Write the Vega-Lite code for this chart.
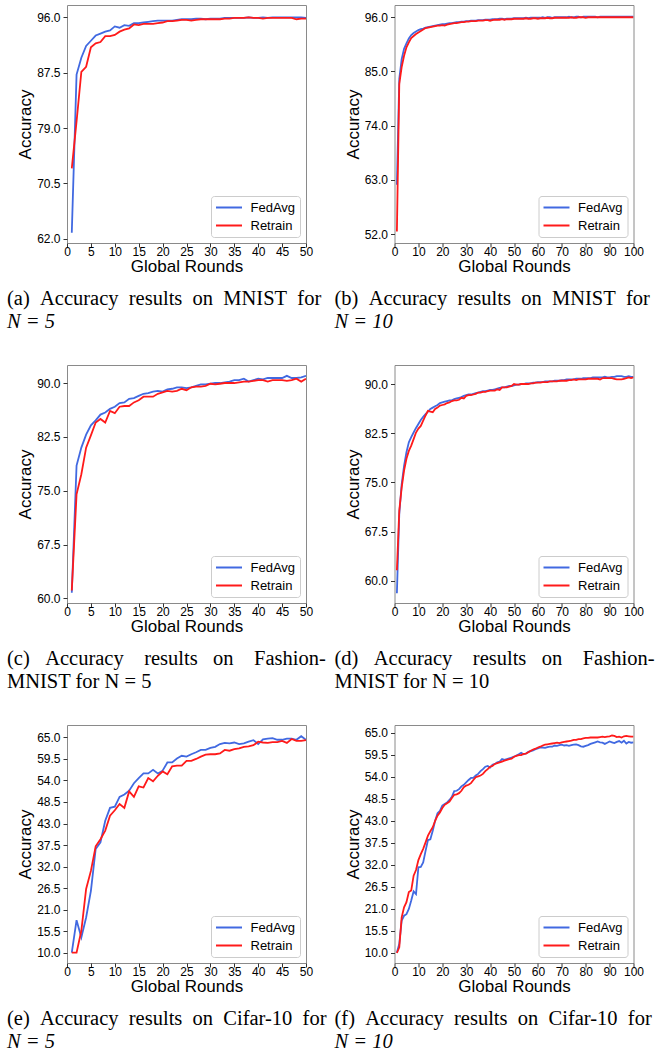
{
"$schema": "https://vega.github.io/schema/vega-lite/v6.json",
"padding": {"left": 6, "top": 4, "right": 2, "bottom": 2},
"autosize": {"type": "pad"},
"columns": 2,
"bounds": "flush",
"spacing": {"row": 122, "column": 88.5},
"resolve": {"scale": {"x": "independent", "y": "independent", "color": "independent"}, "legend": {"color": "independent"}},
"config": {
  "font": "Liberation Sans",
  "view": {"stroke": "#8a8a8a", "strokeWidth": 1},
  "axis": {"domain": false, "grid": false, "ticks": true, "tickColor": "#333", "tickSize": 4, "tickWidth": 1, "labelFont": "Liberation Sans", "labelFontSize": 12, "labelColor": "#000", "labelPadding": -1, "titleFont": "Liberation Sans", "titleFontSize": 17, "titleFontWeight": "normal", "titleColor": "#000", "titlePadding": 1, "labelFlush": false, "labelOverlap": false},
  "axisY": {"labelPadding": 3, "titlePadding": 2},
  "legend": {"orient": "bottom-right", "offset": 6, "labelFont": "Liberation Sans", "labelFontSize": 13, "labelColor": "#000", "symbolType": "M-2,0H2", "symbolSize": 169, "symbolStrokeWidth": 2, "symbolOffset": 6.5, "labelOffset": 14, "fillColor": "#fff", "strokeColor": "#cccccc", "cornerRadius": 3, "padding": 4, "rowPadding": 3},
  "title": {"font": "Liberation Serif", "fontSize": 20.5, "fontWeight": "normal", "color": "#000", "anchor": "start", "frame": "group", "orient": "bottom", "offset": 15, "dx": -60, "subtitleFont": "Liberation Serif", "subtitleFontSize": 20.5, "subtitleColor": "#000", "subtitlePadding": 2}
},
"datasets": {
"a": [
{"r":1,"s":"FedAvg","v":62.9},{"r":2,"s":"FedAvg","v":87.2},{"r":3,"s":"FedAvg","v":89.8},{"r":4,"s":"FedAvg","v":91.6},{"r":5,"s":"FedAvg","v":92.4},{"r":6,"s":"FedAvg","v":93.2},{"r":7,"s":"FedAvg","v":93.5},{"r":8,"s":"FedAvg","v":93.8},{"r":9,"s":"FedAvg","v":94.0},{"r":10,"s":"FedAvg","v":94.6},
{"r":11,"s":"FedAvg","v":94.4},{"r":12,"s":"FedAvg","v":94.8},{"r":13,"s":"FedAvg","v":94.7},{"r":14,"s":"FedAvg","v":95.1},{"r":15,"s":"FedAvg","v":95.1},{"r":16,"s":"FedAvg","v":95.2},{"r":17,"s":"FedAvg","v":95.3},{"r":18,"s":"FedAvg","v":95.4},{"r":19,"s":"FedAvg","v":95.5},{"r":20,"s":"FedAvg","v":95.5},
{"r":21,"s":"FedAvg","v":95.5},{"r":22,"s":"FedAvg","v":95.5},{"r":23,"s":"FedAvg","v":95.6},{"r":24,"s":"FedAvg","v":95.7},{"r":25,"s":"FedAvg","v":95.7},{"r":26,"s":"FedAvg","v":95.7},{"r":27,"s":"FedAvg","v":95.8},{"r":28,"s":"FedAvg","v":95.8},{"r":29,"s":"FedAvg","v":95.7},{"r":30,"s":"FedAvg","v":95.8},
{"r":31,"s":"FedAvg","v":95.8},{"r":32,"s":"FedAvg","v":95.8},{"r":33,"s":"FedAvg","v":95.9},{"r":34,"s":"FedAvg","v":95.9},{"r":35,"s":"FedAvg","v":95.9},{"r":36,"s":"FedAvg","v":95.9},{"r":37,"s":"FedAvg","v":95.9},{"r":38,"s":"FedAvg","v":96.0},{"r":39,"s":"FedAvg","v":95.9},{"r":40,"s":"FedAvg","v":95.9},
{"r":41,"s":"FedAvg","v":96.0},{"r":42,"s":"FedAvg","v":95.9},{"r":43,"s":"FedAvg","v":96.0},{"r":44,"s":"FedAvg","v":96.0},{"r":45,"s":"FedAvg","v":96.0},{"r":46,"s":"FedAvg","v":96.0},{"r":47,"s":"FedAvg","v":96.0},{"r":48,"s":"FedAvg","v":96.0},{"r":49,"s":"FedAvg","v":96.0},{"r":50,"s":"FedAvg","v":95.9},
{"r":1,"s":"Retrain","v":72.8},{"r":2,"s":"Retrain","v":80.0},{"r":3,"s":"Retrain","v":87.6},{"r":4,"s":"Retrain","v":88.4},{"r":5,"s":"Retrain","v":91.4},{"r":6,"s":"Retrain","v":92.0},{"r":7,"s":"Retrain","v":92.2},{"r":8,"s":"Retrain","v":93.1},{"r":9,"s":"Retrain","v":93.1},{"r":10,"s":"Retrain","v":93.3},
{"r":11,"s":"Retrain","v":93.8},{"r":12,"s":"Retrain","v":94.1},{"r":13,"s":"Retrain","v":94.3},{"r":14,"s":"Retrain","v":94.9},{"r":15,"s":"Retrain","v":94.8},{"r":16,"s":"Retrain","v":95.0},{"r":17,"s":"Retrain","v":95.0},{"r":18,"s":"Retrain","v":95.0},{"r":19,"s":"Retrain","v":95.1},{"r":20,"s":"Retrain","v":95.2},
{"r":21,"s":"Retrain","v":95.4},{"r":22,"s":"Retrain","v":95.4},{"r":23,"s":"Retrain","v":95.5},{"r":24,"s":"Retrain","v":95.6},{"r":25,"s":"Retrain","v":95.6},{"r":26,"s":"Retrain","v":95.5},{"r":27,"s":"Retrain","v":95.6},{"r":28,"s":"Retrain","v":95.7},{"r":29,"s":"Retrain","v":95.7},{"r":30,"s":"Retrain","v":95.7},
{"r":31,"s":"Retrain","v":95.7},{"r":32,"s":"Retrain","v":95.7},{"r":33,"s":"Retrain","v":95.8},{"r":34,"s":"Retrain","v":95.8},{"r":35,"s":"Retrain","v":95.9},{"r":36,"s":"Retrain","v":95.9},{"r":37,"s":"Retrain","v":95.9},{"r":38,"s":"Retrain","v":96.0},{"r":39,"s":"Retrain","v":95.9},{"r":40,"s":"Retrain","v":95.9},
{"r":41,"s":"Retrain","v":95.8},{"r":42,"s":"Retrain","v":95.9},{"r":43,"s":"Retrain","v":95.9},{"r":44,"s":"Retrain","v":95.9},{"r":45,"s":"Retrain","v":95.9},{"r":46,"s":"Retrain","v":95.9},{"r":47,"s":"Retrain","v":95.9},{"r":48,"s":"Retrain","v":95.7},{"r":49,"s":"Retrain","v":95.8},{"r":50,"s":"Retrain","v":95.8}
],
"b": [
{"r":1,"s":"FedAvg","v":62.0},{"r":2,"s":"FedAvg","v":83.5},{"r":3,"s":"FedAvg","v":87.5},{"r":4,"s":"FedAvg","v":89.6},{"r":5,"s":"FedAvg","v":90.7},{"r":6,"s":"FedAvg","v":91.7},{"r":7,"s":"FedAvg","v":92.4},{"r":8,"s":"FedAvg","v":92.8},{"r":9,"s":"FedAvg","v":93.1},{"r":10,"s":"FedAvg","v":93.4},
{"r":11,"s":"FedAvg","v":93.6},{"r":12,"s":"FedAvg","v":93.7},{"r":13,"s":"FedAvg","v":93.9},{"r":14,"s":"FedAvg","v":94.0},{"r":15,"s":"FedAvg","v":94.1},{"r":16,"s":"FedAvg","v":94.2},{"r":17,"s":"FedAvg","v":94.3},{"r":18,"s":"FedAvg","v":94.4},{"r":19,"s":"FedAvg","v":94.5},{"r":20,"s":"FedAvg","v":94.6},
{"r":21,"s":"FedAvg","v":94.6},{"r":22,"s":"FedAvg","v":94.7},{"r":23,"s":"FedAvg","v":94.8},{"r":24,"s":"FedAvg","v":94.8},{"r":25,"s":"FedAvg","v":94.9},{"r":26,"s":"FedAvg","v":95.0},{"r":27,"s":"FedAvg","v":95.0},{"r":28,"s":"FedAvg","v":95.1},{"r":29,"s":"FedAvg","v":95.1},{"r":30,"s":"FedAvg","v":95.2},
{"r":31,"s":"FedAvg","v":95.2},{"r":32,"s":"FedAvg","v":95.3},{"r":33,"s":"FedAvg","v":95.3},{"r":34,"s":"FedAvg","v":95.3},{"r":35,"s":"FedAvg","v":95.4},{"r":36,"s":"FedAvg","v":95.4},{"r":37,"s":"FedAvg","v":95.4},{"r":38,"s":"FedAvg","v":95.5},{"r":39,"s":"FedAvg","v":95.5},{"r":40,"s":"FedAvg","v":95.5},
{"r":41,"s":"FedAvg","v":95.6},{"r":42,"s":"FedAvg","v":95.6},{"r":43,"s":"FedAvg","v":95.6},{"r":44,"s":"FedAvg","v":95.7},{"r":45,"s":"FedAvg","v":95.7},{"r":46,"s":"FedAvg","v":95.6},{"r":47,"s":"FedAvg","v":95.7},{"r":48,"s":"FedAvg","v":95.7},{"r":49,"s":"FedAvg","v":95.7},{"r":50,"s":"FedAvg","v":95.8},
{"r":51,"s":"FedAvg","v":95.8},{"r":52,"s":"FedAvg","v":95.8},{"r":53,"s":"FedAvg","v":95.8},{"r":54,"s":"FedAvg","v":95.8},{"r":55,"s":"FedAvg","v":95.9},{"r":56,"s":"FedAvg","v":95.8},{"r":57,"s":"FedAvg","v":95.9},{"r":58,"s":"FedAvg","v":95.9},{"r":59,"s":"FedAvg","v":95.9},{"r":60,"s":"FedAvg","v":95.9},
{"r":61,"s":"FedAvg","v":95.9},{"r":62,"s":"FedAvg","v":96.0},{"r":63,"s":"FedAvg","v":95.9},{"r":64,"s":"FedAvg","v":96.0},{"r":65,"s":"FedAvg","v":96.0},{"r":66,"s":"FedAvg","v":95.9},{"r":67,"s":"FedAvg","v":96.0},{"r":68,"s":"FedAvg","v":96.0},{"r":69,"s":"FedAvg","v":96.0},{"r":70,"s":"FedAvg","v":96.0},
{"r":71,"s":"FedAvg","v":96.0},{"r":72,"s":"FedAvg","v":96.0},{"r":73,"s":"FedAvg","v":96.1},{"r":74,"s":"FedAvg","v":96.0},{"r":75,"s":"FedAvg","v":96.0},{"r":76,"s":"FedAvg","v":96.1},{"r":77,"s":"FedAvg","v":96.1},{"r":78,"s":"FedAvg","v":96.0},{"r":79,"s":"FedAvg","v":96.1},{"r":80,"s":"FedAvg","v":96.1},
{"r":81,"s":"FedAvg","v":96.1},{"r":82,"s":"FedAvg","v":96.1},{"r":83,"s":"FedAvg","v":96.1},{"r":84,"s":"FedAvg","v":96.1},{"r":85,"s":"FedAvg","v":96.0},{"r":86,"s":"FedAvg","v":96.1},{"r":87,"s":"FedAvg","v":96.1},{"r":88,"s":"FedAvg","v":96.1},{"r":89,"s":"FedAvg","v":96.1},{"r":90,"s":"FedAvg","v":96.1},
{"r":91,"s":"FedAvg","v":96.1},{"r":92,"s":"FedAvg","v":96.1},{"r":93,"s":"FedAvg","v":96.1},{"r":94,"s":"FedAvg","v":96.1},{"r":95,"s":"FedAvg","v":96.1},{"r":96,"s":"FedAvg","v":96.1},{"r":97,"s":"FedAvg","v":96.1},{"r":98,"s":"FedAvg","v":96.1},{"r":99,"s":"FedAvg","v":96.1},{"r":100,"s":"FedAvg","v":96.1},
{"r":1,"s":"Retrain","v":52.5},{"r":2,"s":"Retrain","v":82.5},{"r":3,"s":"Retrain","v":85.9},{"r":4,"s":"Retrain","v":88.2},{"r":5,"s":"Retrain","v":89.9},{"r":6,"s":"Retrain","v":90.9},{"r":7,"s":"Retrain","v":91.8},{"r":8,"s":"Retrain","v":92.2},{"r":9,"s":"Retrain","v":92.6},{"r":10,"s":"Retrain","v":92.9},
{"r":11,"s":"Retrain","v":93.2},{"r":12,"s":"Retrain","v":93.5},{"r":13,"s":"Retrain","v":93.8},{"r":14,"s":"Retrain","v":93.9},{"r":15,"s":"Retrain","v":94.0},{"r":16,"s":"Retrain","v":94.1},{"r":17,"s":"Retrain","v":94.2},{"r":18,"s":"Retrain","v":94.3},{"r":19,"s":"Retrain","v":94.3},{"r":20,"s":"Retrain","v":94.4},
{"r":21,"s":"Retrain","v":94.3},{"r":22,"s":"Retrain","v":94.5},{"r":23,"s":"Retrain","v":94.6},{"r":24,"s":"Retrain","v":94.7},{"r":25,"s":"Retrain","v":94.8},{"r":26,"s":"Retrain","v":94.8},{"r":27,"s":"Retrain","v":94.9},{"r":28,"s":"Retrain","v":95.0},{"r":29,"s":"Retrain","v":95.0},{"r":30,"s":"Retrain","v":95.1},
{"r":31,"s":"Retrain","v":95.1},{"r":32,"s":"Retrain","v":95.2},{"r":33,"s":"Retrain","v":95.2},{"r":34,"s":"Retrain","v":95.2},{"r":35,"s":"Retrain","v":95.3},{"r":36,"s":"Retrain","v":95.3},{"r":37,"s":"Retrain","v":95.3},{"r":38,"s":"Retrain","v":95.4},{"r":39,"s":"Retrain","v":95.4},{"r":40,"s":"Retrain","v":95.3},
{"r":41,"s":"Retrain","v":95.4},{"r":42,"s":"Retrain","v":95.5},{"r":43,"s":"Retrain","v":95.5},{"r":44,"s":"Retrain","v":95.5},{"r":45,"s":"Retrain","v":95.6},{"r":46,"s":"Retrain","v":95.5},{"r":47,"s":"Retrain","v":95.6},{"r":48,"s":"Retrain","v":95.6},{"r":49,"s":"Retrain","v":95.6},{"r":50,"s":"Retrain","v":95.7},
{"r":51,"s":"Retrain","v":95.7},{"r":52,"s":"Retrain","v":95.7},{"r":53,"s":"Retrain","v":95.7},{"r":54,"s":"Retrain","v":95.7},{"r":55,"s":"Retrain","v":95.8},{"r":56,"s":"Retrain","v":95.7},{"r":57,"s":"Retrain","v":95.7},{"r":58,"s":"Retrain","v":95.8},{"r":59,"s":"Retrain","v":95.8},{"r":60,"s":"Retrain","v":95.7},
{"r":61,"s":"Retrain","v":95.8},{"r":62,"s":"Retrain","v":95.8},{"r":63,"s":"Retrain","v":95.8},{"r":64,"s":"Retrain","v":95.9},{"r":65,"s":"Retrain","v":95.8},{"r":66,"s":"Retrain","v":95.8},{"r":67,"s":"Retrain","v":95.9},{"r":68,"s":"Retrain","v":95.9},{"r":69,"s":"Retrain","v":95.9},{"r":70,"s":"Retrain","v":95.9},
{"r":71,"s":"Retrain","v":95.9},{"r":72,"s":"Retrain","v":95.9},{"r":73,"s":"Retrain","v":95.9},{"r":74,"s":"Retrain","v":96.0},{"r":75,"s":"Retrain","v":95.9},{"r":76,"s":"Retrain","v":95.9},{"r":77,"s":"Retrain","v":96.0},{"r":78,"s":"Retrain","v":96.0},{"r":79,"s":"Retrain","v":96.0},{"r":80,"s":"Retrain","v":95.9},
{"r":81,"s":"Retrain","v":96.0},{"r":82,"s":"Retrain","v":96.0},{"r":83,"s":"Retrain","v":96.0},{"r":84,"s":"Retrain","v":96.0},{"r":85,"s":"Retrain","v":96.0},{"r":86,"s":"Retrain","v":96.0},{"r":87,"s":"Retrain","v":96.0},{"r":88,"s":"Retrain","v":96.0},{"r":89,"s":"Retrain","v":96.0},{"r":90,"s":"Retrain","v":96.0},
{"r":91,"s":"Retrain","v":96.0},{"r":92,"s":"Retrain","v":96.0},{"r":93,"s":"Retrain","v":96.0},{"r":94,"s":"Retrain","v":96.0},{"r":95,"s":"Retrain","v":96.0},{"r":96,"s":"Retrain","v":96.0},{"r":97,"s":"Retrain","v":96.0},{"r":98,"s":"Retrain","v":96.0},{"r":99,"s":"Retrain","v":96.0},{"r":100,"s":"Retrain","v":96.0}
],
"c": [
{"r":1,"s":"FedAvg","v":60.8},{"r":2,"s":"FedAvg","v":78.5},{"r":3,"s":"FedAvg","v":81.0},{"r":4,"s":"FedAvg","v":82.8},{"r":5,"s":"FedAvg","v":84.1},{"r":6,"s":"FedAvg","v":84.8},{"r":7,"s":"FedAvg","v":85.6},{"r":8,"s":"FedAvg","v":85.9},{"r":9,"s":"FedAvg","v":86.4},{"r":10,"s":"FedAvg","v":86.7},
{"r":11,"s":"FedAvg","v":87.2},{"r":12,"s":"FedAvg","v":87.3},{"r":13,"s":"FedAvg","v":87.8},{"r":14,"s":"FedAvg","v":87.9},{"r":15,"s":"FedAvg","v":88.2},{"r":16,"s":"FedAvg","v":88.5},{"r":17,"s":"FedAvg","v":88.6},{"r":18,"s":"FedAvg","v":88.8},{"r":19,"s":"FedAvg","v":88.9},{"r":20,"s":"FedAvg","v":88.8},
{"r":21,"s":"FedAvg","v":89.1},{"r":22,"s":"FedAvg","v":89.2},{"r":23,"s":"FedAvg","v":89.4},{"r":24,"s":"FedAvg","v":89.4},{"r":25,"s":"FedAvg","v":89.3},{"r":26,"s":"FedAvg","v":89.4},{"r":27,"s":"FedAvg","v":89.6},{"r":28,"s":"FedAvg","v":89.8},{"r":29,"s":"FedAvg","v":89.8},{"r":30,"s":"FedAvg","v":89.9},
{"r":31,"s":"FedAvg","v":90.0},{"r":32,"s":"FedAvg","v":90.0},{"r":33,"s":"FedAvg","v":90.1},{"r":34,"s":"FedAvg","v":90.2},{"r":35,"s":"FedAvg","v":90.4},{"r":36,"s":"FedAvg","v":90.4},{"r":37,"s":"FedAvg","v":90.6},{"r":38,"s":"FedAvg","v":90.2},{"r":39,"s":"FedAvg","v":90.4},{"r":40,"s":"FedAvg","v":90.6},
{"r":41,"s":"FedAvg","v":90.5},{"r":42,"s":"FedAvg","v":90.7},{"r":43,"s":"FedAvg","v":90.7},{"r":44,"s":"FedAvg","v":90.7},{"r":45,"s":"FedAvg","v":90.7},{"r":46,"s":"FedAvg","v":91.0},{"r":47,"s":"FedAvg","v":90.7},{"r":48,"s":"FedAvg","v":90.7},{"r":49,"s":"FedAvg","v":90.8},{"r":50,"s":"FedAvg","v":91.0},
{"r":1,"s":"Retrain","v":61.1},{"r":2,"s":"Retrain","v":74.5},{"r":3,"s":"Retrain","v":77.3},{"r":4,"s":"Retrain","v":81.0},{"r":5,"s":"Retrain","v":82.7},{"r":6,"s":"Retrain","v":84.5},{"r":7,"s":"Retrain","v":85.0},{"r":8,"s":"Retrain","v":84.5},{"r":9,"s":"Retrain","v":86.1},{"r":10,"s":"Retrain","v":85.8},
{"r":11,"s":"Retrain","v":86.7},{"r":12,"s":"Retrain","v":86.8},{"r":13,"s":"Retrain","v":86.8},{"r":14,"s":"Retrain","v":87.3},{"r":15,"s":"Retrain","v":87.6},{"r":16,"s":"Retrain","v":88.1},{"r":17,"s":"Retrain","v":88.1},{"r":18,"s":"Retrain","v":88.1},{"r":19,"s":"Retrain","v":88.5},{"r":20,"s":"Retrain","v":88.7},
{"r":21,"s":"Retrain","v":88.9},{"r":22,"s":"Retrain","v":88.8},{"r":23,"s":"Retrain","v":88.9},{"r":24,"s":"Retrain","v":89.2},{"r":25,"s":"Retrain","v":89.0},{"r":26,"s":"Retrain","v":89.4},{"r":27,"s":"Retrain","v":89.5},{"r":28,"s":"Retrain","v":89.5},{"r":29,"s":"Retrain","v":89.6},{"r":30,"s":"Retrain","v":89.9},
{"r":31,"s":"Retrain","v":89.8},{"r":32,"s":"Retrain","v":89.9},{"r":33,"s":"Retrain","v":90.0},{"r":34,"s":"Retrain","v":90.0},{"r":35,"s":"Retrain","v":90.0},{"r":36,"s":"Retrain","v":90.1},{"r":37,"s":"Retrain","v":90.2},{"r":38,"s":"Retrain","v":90.2},{"r":39,"s":"Retrain","v":90.3},{"r":40,"s":"Retrain","v":90.4},
{"r":41,"s":"Retrain","v":90.4},{"r":42,"s":"Retrain","v":90.2},{"r":43,"s":"Retrain","v":90.4},{"r":44,"s":"Retrain","v":90.4},{"r":45,"s":"Retrain","v":90.4},{"r":46,"s":"Retrain","v":90.3},{"r":47,"s":"Retrain","v":90.4},{"r":48,"s":"Retrain","v":90.6},{"r":49,"s":"Retrain","v":90.2},{"r":50,"s":"Retrain","v":90.6}
],
"d": [
{"r":1,"s":"FedAvg","v":58.1},{"r":2,"s":"FedAvg","v":70.2},{"r":3,"s":"FedAvg","v":74.7},{"r":4,"s":"FedAvg","v":77.5},{"r":5,"s":"FedAvg","v":79.6},{"r":6,"s":"FedAvg","v":81.1},{"r":7,"s":"FedAvg","v":81.9},{"r":8,"s":"FedAvg","v":82.6},{"r":9,"s":"FedAvg","v":83.3},{"r":10,"s":"FedAvg","v":83.9},
{"r":11,"s":"FedAvg","v":84.5},{"r":12,"s":"FedAvg","v":85.0},{"r":13,"s":"FedAvg","v":85.4},{"r":14,"s":"FedAvg","v":85.8},{"r":15,"s":"FedAvg","v":86.2},{"r":16,"s":"FedAvg","v":86.4},{"r":17,"s":"FedAvg","v":86.6},{"r":18,"s":"FedAvg","v":86.8},{"r":19,"s":"FedAvg","v":87.1},{"r":20,"s":"FedAvg","v":87.2},
{"r":21,"s":"FedAvg","v":87.3},{"r":22,"s":"FedAvg","v":87.4},{"r":23,"s":"FedAvg","v":87.5},{"r":24,"s":"FedAvg","v":87.5},{"r":25,"s":"FedAvg","v":87.7},{"r":26,"s":"FedAvg","v":87.8},{"r":27,"s":"FedAvg","v":87.9},{"r":28,"s":"FedAvg","v":88.0},{"r":29,"s":"FedAvg","v":88.2},{"r":30,"s":"FedAvg","v":88.3},
{"r":31,"s":"FedAvg","v":88.4},{"r":32,"s":"FedAvg","v":88.4},{"r":33,"s":"FedAvg","v":88.5},{"r":34,"s":"FedAvg","v":88.6},{"r":35,"s":"FedAvg","v":88.7},{"r":36,"s":"FedAvg","v":88.8},{"r":37,"s":"FedAvg","v":88.9},{"r":38,"s":"FedAvg","v":88.9},{"r":39,"s":"FedAvg","v":89.0},{"r":40,"s":"FedAvg","v":89.1},
{"r":41,"s":"FedAvg","v":89.1},{"r":42,"s":"FedAvg","v":89.2},{"r":43,"s":"FedAvg","v":89.3},{"r":44,"s":"FedAvg","v":89.4},{"r":45,"s":"FedAvg","v":89.5},{"r":46,"s":"FedAvg","v":89.5},{"r":47,"s":"FedAvg","v":89.6},{"r":48,"s":"FedAvg","v":89.7},{"r":49,"s":"FedAvg","v":89.7},{"r":50,"s":"FedAvg","v":89.8},
{"r":51,"s":"FedAvg","v":89.9},{"r":52,"s":"FedAvg","v":89.9},{"r":53,"s":"FedAvg","v":90.0},{"r":54,"s":"FedAvg","v":90.0},{"r":55,"s":"FedAvg","v":90.1},{"r":56,"s":"FedAvg","v":90.1},{"r":57,"s":"FedAvg","v":90.1},{"r":58,"s":"FedAvg","v":90.2},{"r":59,"s":"FedAvg","v":90.2},{"r":60,"s":"FedAvg","v":90.3},
{"r":61,"s":"FedAvg","v":90.3},{"r":62,"s":"FedAvg","v":90.3},{"r":63,"s":"FedAvg","v":90.4},{"r":64,"s":"FedAvg","v":90.4},{"r":65,"s":"FedAvg","v":90.4},{"r":66,"s":"FedAvg","v":90.4},{"r":67,"s":"FedAvg","v":90.5},{"r":68,"s":"FedAvg","v":90.5},{"r":69,"s":"FedAvg","v":90.5},{"r":70,"s":"FedAvg","v":90.6},
{"r":71,"s":"FedAvg","v":90.6},{"r":72,"s":"FedAvg","v":90.7},{"r":73,"s":"FedAvg","v":90.7},{"r":74,"s":"FedAvg","v":90.7},{"r":75,"s":"FedAvg","v":90.7},{"r":76,"s":"FedAvg","v":90.8},{"r":77,"s":"FedAvg","v":90.8},{"r":78,"s":"FedAvg","v":90.8},{"r":79,"s":"FedAvg","v":90.9},{"r":80,"s":"FedAvg","v":90.9},
{"r":81,"s":"FedAvg","v":90.9},{"r":82,"s":"FedAvg","v":90.9},{"r":83,"s":"FedAvg","v":91.0},{"r":84,"s":"FedAvg","v":91.0},{"r":85,"s":"FedAvg","v":91.0},{"r":86,"s":"FedAvg","v":91.0},{"r":87,"s":"FedAvg","v":91.0},{"r":88,"s":"FedAvg","v":91.1},{"r":89,"s":"FedAvg","v":91.0},{"r":90,"s":"FedAvg","v":91.0},
{"r":91,"s":"FedAvg","v":91.1},{"r":92,"s":"FedAvg","v":91.1},{"r":93,"s":"FedAvg","v":91.2},{"r":94,"s":"FedAvg","v":91.2},{"r":95,"s":"FedAvg","v":91.2},{"r":96,"s":"FedAvg","v":91.1},{"r":97,"s":"FedAvg","v":91.1},{"r":98,"s":"FedAvg","v":91.2},{"r":99,"s":"FedAvg","v":91.1},{"r":100,"s":"FedAvg","v":91.1},
{"r":1,"s":"Retrain","v":61.6},{"r":2,"s":"Retrain","v":70.7},{"r":3,"s":"Retrain","v":74.2},{"r":4,"s":"Retrain","v":76.8},{"r":5,"s":"Retrain","v":78.6},{"r":6,"s":"Retrain","v":79.8},{"r":7,"s":"Retrain","v":80.6},{"r":8,"s":"Retrain","v":81.6},{"r":9,"s":"Retrain","v":82.6},{"r":10,"s":"Retrain","v":83.2},
{"r":11,"s":"Retrain","v":83.6},{"r":12,"s":"Retrain","v":84.4},{"r":13,"s":"Retrain","v":85.2},{"r":14,"s":"Retrain","v":85.9},{"r":15,"s":"Retrain","v":85.8},{"r":16,"s":"Retrain","v":85.7},{"r":17,"s":"Retrain","v":86.2},{"r":18,"s":"Retrain","v":86.4},{"r":19,"s":"Retrain","v":86.7},{"r":20,"s":"Retrain","v":86.8},
{"r":21,"s":"Retrain","v":86.9},{"r":22,"s":"Retrain","v":87.1},{"r":23,"s":"Retrain","v":87.2},{"r":24,"s":"Retrain","v":87.4},{"r":25,"s":"Retrain","v":87.5},{"r":26,"s":"Retrain","v":87.5},{"r":27,"s":"Retrain","v":87.6},{"r":28,"s":"Retrain","v":87.9},{"r":29,"s":"Retrain","v":87.8},{"r":30,"s":"Retrain","v":88.2},
{"r":31,"s":"Retrain","v":88.3},{"r":32,"s":"Retrain","v":88.3},{"r":33,"s":"Retrain","v":88.4},{"r":34,"s":"Retrain","v":88.5},{"r":35,"s":"Retrain","v":88.7},{"r":36,"s":"Retrain","v":88.7},{"r":37,"s":"Retrain","v":88.8},{"r":38,"s":"Retrain","v":88.8},{"r":39,"s":"Retrain","v":88.9},{"r":40,"s":"Retrain","v":89.0},
{"r":41,"s":"Retrain","v":89.0},{"r":42,"s":"Retrain","v":89.0},{"r":43,"s":"Retrain","v":89.2},{"r":44,"s":"Retrain","v":89.1},{"r":45,"s":"Retrain","v":89.5},{"r":46,"s":"Retrain","v":89.5},{"r":47,"s":"Retrain","v":89.5},{"r":48,"s":"Retrain","v":89.6},{"r":49,"s":"Retrain","v":89.7},{"r":50,"s":"Retrain","v":90.0},
{"r":51,"s":"Retrain","v":89.9},{"r":52,"s":"Retrain","v":89.9},{"r":53,"s":"Retrain","v":90.0},{"r":54,"s":"Retrain","v":90.0},{"r":55,"s":"Retrain","v":90.0},{"r":56,"s":"Retrain","v":90.0},{"r":57,"s":"Retrain","v":90.1},{"r":58,"s":"Retrain","v":90.1},{"r":59,"s":"Retrain","v":90.2},{"r":60,"s":"Retrain","v":90.2},
{"r":61,"s":"Retrain","v":90.2},{"r":62,"s":"Retrain","v":90.3},{"r":63,"s":"Retrain","v":90.3},{"r":64,"s":"Retrain","v":90.3},{"r":65,"s":"Retrain","v":90.4},{"r":66,"s":"Retrain","v":90.4},{"r":67,"s":"Retrain","v":90.4},{"r":68,"s":"Retrain","v":90.4},{"r":69,"s":"Retrain","v":90.5},{"r":70,"s":"Retrain","v":90.5},
{"r":71,"s":"Retrain","v":90.5},{"r":72,"s":"Retrain","v":90.5},{"r":73,"s":"Retrain","v":90.6},{"r":74,"s":"Retrain","v":90.6},{"r":75,"s":"Retrain","v":90.7},{"r":76,"s":"Retrain","v":90.6},{"r":77,"s":"Retrain","v":90.7},{"r":78,"s":"Retrain","v":90.7},{"r":79,"s":"Retrain","v":90.7},{"r":80,"s":"Retrain","v":90.7},
{"r":81,"s":"Retrain","v":90.8},{"r":82,"s":"Retrain","v":90.8},{"r":83,"s":"Retrain","v":90.8},{"r":84,"s":"Retrain","v":90.8},{"r":85,"s":"Retrain","v":90.8},{"r":86,"s":"Retrain","v":90.7},{"r":87,"s":"Retrain","v":90.9},{"r":88,"s":"Retrain","v":90.9},{"r":89,"s":"Retrain","v":90.9},{"r":90,"s":"Retrain","v":90.9},
{"r":91,"s":"Retrain","v":90.9},{"r":92,"s":"Retrain","v":90.8},{"r":93,"s":"Retrain","v":90.7},{"r":94,"s":"Retrain","v":90.7},{"r":95,"s":"Retrain","v":90.7},{"r":96,"s":"Retrain","v":90.8},{"r":97,"s":"Retrain","v":90.9},{"r":98,"s":"Retrain","v":91.0},{"r":99,"s":"Retrain","v":90.9},{"r":100,"s":"Retrain","v":91.0}
],
"e": [
{"r":1,"s":"FedAvg","v":10.0},{"r":2,"s":"FedAvg","v":18.3},{"r":3,"s":"FedAvg","v":13.9},{"r":4,"s":"FedAvg","v":19.0},{"r":5,"s":"FedAvg","v":25.8},{"r":6,"s":"FedAvg","v":36.5},{"r":7,"s":"FedAvg","v":38.2},{"r":8,"s":"FedAvg","v":43.7},{"r":9,"s":"FedAvg","v":47.0},{"r":10,"s":"FedAvg","v":47.3},
{"r":11,"s":"FedAvg","v":49.8},{"r":12,"s":"FedAvg","v":50.4},{"r":13,"s":"FedAvg","v":51.4},{"r":14,"s":"FedAvg","v":53.3},{"r":15,"s":"FedAvg","v":54.6},{"r":16,"s":"FedAvg","v":55.8},{"r":17,"s":"FedAvg","v":55.8},{"r":18,"s":"FedAvg","v":56.7},{"r":19,"s":"FedAvg","v":55.8},{"r":20,"s":"FedAvg","v":56.5},
{"r":21,"s":"FedAvg","v":58.6},{"r":22,"s":"FedAvg","v":58.6},{"r":23,"s":"FedAvg","v":59.6},{"r":24,"s":"FedAvg","v":60.3},{"r":25,"s":"FedAvg","v":60.1},{"r":26,"s":"FedAvg","v":60.7},{"r":27,"s":"FedAvg","v":61.2},{"r":28,"s":"FedAvg","v":61.8},{"r":29,"s":"FedAvg","v":61.8},{"r":30,"s":"FedAvg","v":62.3},
{"r":31,"s":"FedAvg","v":62.6},{"r":32,"s":"FedAvg","v":63.3},{"r":33,"s":"FedAvg","v":63.6},{"r":34,"s":"FedAvg","v":63.5},{"r":35,"s":"FedAvg","v":63.7},{"r":36,"s":"FedAvg","v":63.3},{"r":37,"s":"FedAvg","v":63.5},{"r":38,"s":"FedAvg","v":63.9},{"r":39,"s":"FedAvg","v":64.3},{"r":40,"s":"FedAvg","v":63.3},
{"r":41,"s":"FedAvg","v":64.5},{"r":42,"s":"FedAvg","v":64.7},{"r":43,"s":"FedAvg","v":64.8},{"r":44,"s":"FedAvg","v":64.4},{"r":45,"s":"FedAvg","v":64.4},{"r":46,"s":"FedAvg","v":64.7},{"r":47,"s":"FedAvg","v":64.7},{"r":48,"s":"FedAvg","v":64.4},{"r":49,"s":"FedAvg","v":65.3},{"r":50,"s":"FedAvg","v":64.4},
{"r":1,"s":"Retrain","v":10.0},{"r":2,"s":"Retrain","v":10.0},{"r":3,"s":"Retrain","v":15.6},{"r":4,"s":"Retrain","v":26.3},{"r":5,"s":"Retrain","v":30.9},{"r":6,"s":"Retrain","v":37.2},{"r":7,"s":"Retrain","v":39.0},{"r":8,"s":"Retrain","v":41.2},{"r":9,"s":"Retrain","v":45.0},{"r":10,"s":"Retrain","v":46.4},
{"r":11,"s":"Retrain","v":48.0},{"r":12,"s":"Retrain","v":47.0},{"r":13,"s":"Retrain","v":51.2},{"r":14,"s":"Retrain","v":49.8},{"r":15,"s":"Retrain","v":52.5},{"r":16,"s":"Retrain","v":52.2},{"r":17,"s":"Retrain","v":54.6},{"r":18,"s":"Retrain","v":53.8},{"r":19,"s":"Retrain","v":55.2},{"r":20,"s":"Retrain","v":56.3},
{"r":21,"s":"Retrain","v":55.6},{"r":22,"s":"Retrain","v":57.6},{"r":23,"s":"Retrain","v":57.8},{"r":24,"s":"Retrain","v":57.8},{"r":25,"s":"Retrain","v":59.0},{"r":26,"s":"Retrain","v":59.0},{"r":27,"s":"Retrain","v":59.5},{"r":28,"s":"Retrain","v":60.1},{"r":29,"s":"Retrain","v":60.6},{"r":30,"s":"Retrain","v":60.7},
{"r":31,"s":"Retrain","v":60.7},{"r":32,"s":"Retrain","v":60.9},{"r":33,"s":"Retrain","v":61.8},{"r":34,"s":"Retrain","v":61.6},{"r":35,"s":"Retrain","v":62.0},{"r":36,"s":"Retrain","v":62.2},{"r":37,"s":"Retrain","v":62.6},{"r":38,"s":"Retrain","v":62.7},{"r":39,"s":"Retrain","v":63.0},{"r":40,"s":"Retrain","v":63.9},
{"r":41,"s":"Retrain","v":63.7},{"r":42,"s":"Retrain","v":63.6},{"r":43,"s":"Retrain","v":63.8},{"r":44,"s":"Retrain","v":63.8},{"r":45,"s":"Retrain","v":64.1},{"r":46,"s":"Retrain","v":63.6},{"r":47,"s":"Retrain","v":64.6},{"r":48,"s":"Retrain","v":64.1},{"r":49,"s":"Retrain","v":64.1},{"r":50,"s":"Retrain","v":64.3}
],
"f": [
{"r":1,"s":"FedAvg","v":10.1},{"r":2,"s":"FedAvg","v":12.3},{"r":3,"s":"FedAvg","v":18.1},{"r":4,"s":"FedAvg","v":19.3},{"r":5,"s":"FedAvg","v":19.7},{"r":6,"s":"FedAvg","v":21.0},{"r":7,"s":"FedAvg","v":23.1},{"r":8,"s":"FedAvg","v":25.4},{"r":9,"s":"FedAvg","v":24.7},{"r":10,"s":"FedAvg","v":31.4},
{"r":11,"s":"FedAvg","v":31.5},{"r":12,"s":"FedAvg","v":32.6},{"r":13,"s":"FedAvg","v":35.5},{"r":14,"s":"FedAvg","v":38.2},{"r":15,"s":"FedAvg","v":38.4},{"r":16,"s":"FedAvg","v":40.5},{"r":17,"s":"FedAvg","v":43.0},{"r":18,"s":"FedAvg","v":44.9},{"r":19,"s":"FedAvg","v":45.5},{"r":20,"s":"FedAvg","v":46.8},
{"r":21,"s":"FedAvg","v":47.2},{"r":22,"s":"FedAvg","v":47.6},{"r":23,"s":"FedAvg","v":48.2},{"r":24,"s":"FedAvg","v":49.0},{"r":25,"s":"FedAvg","v":50.4},{"r":26,"s":"FedAvg","v":50.5},{"r":27,"s":"FedAvg","v":50.9},{"r":28,"s":"FedAvg","v":51.6},{"r":29,"s":"FedAvg","v":52.0},{"r":30,"s":"FedAvg","v":52.6},
{"r":31,"s":"FedAvg","v":53.2},{"r":32,"s":"FedAvg","v":53.7},{"r":33,"s":"FedAvg","v":53.7},{"r":34,"s":"FedAvg","v":54.3},{"r":35,"s":"FedAvg","v":54.7},{"r":36,"s":"FedAvg","v":55.4},{"r":37,"s":"FedAvg","v":55.9},{"r":38,"s":"FedAvg","v":56.5},{"r":39,"s":"FedAvg","v":56.7},{"r":40,"s":"FedAvg","v":56.3},
{"r":41,"s":"FedAvg","v":57.0},{"r":42,"s":"FedAvg","v":57.2},{"r":43,"s":"FedAvg","v":57.6},{"r":44,"s":"FedAvg","v":57.8},{"r":45,"s":"FedAvg","v":58.4},{"r":46,"s":"FedAvg","v":58.2},{"r":47,"s":"FedAvg","v":58.4},{"r":48,"s":"FedAvg","v":58.6},{"r":49,"s":"FedAvg","v":58.8},{"r":50,"s":"FedAvg","v":59.0},
{"r":51,"s":"FedAvg","v":59.3},{"r":52,"s":"FedAvg","v":59.6},{"r":53,"s":"FedAvg","v":60.0},{"r":54,"s":"FedAvg","v":59.6},{"r":55,"s":"FedAvg","v":59.8},{"r":56,"s":"FedAvg","v":60.2},{"r":57,"s":"FedAvg","v":60.4},{"r":58,"s":"FedAvg","v":60.6},{"r":59,"s":"FedAvg","v":60.9},{"r":60,"s":"FedAvg","v":61.1},
{"r":61,"s":"FedAvg","v":61.3},{"r":62,"s":"FedAvg","v":61.3},{"r":63,"s":"FedAvg","v":61.2},{"r":64,"s":"FedAvg","v":61.4},{"r":65,"s":"FedAvg","v":61.5},{"r":66,"s":"FedAvg","v":61.5},{"r":67,"s":"FedAvg","v":61.8},{"r":68,"s":"FedAvg","v":61.7},{"r":69,"s":"FedAvg","v":61.9},{"r":70,"s":"FedAvg","v":62.0},
{"r":71,"s":"FedAvg","v":61.8},{"r":72,"s":"FedAvg","v":61.9},{"r":73,"s":"FedAvg","v":61.7},{"r":74,"s":"FedAvg","v":61.9},{"r":75,"s":"FedAvg","v":62.0},{"r":76,"s":"FedAvg","v":62.1},{"r":77,"s":"FedAvg","v":61.9},{"r":78,"s":"FedAvg","v":61.6},{"r":79,"s":"FedAvg","v":61.5},{"r":80,"s":"FedAvg","v":61.7},
{"r":81,"s":"FedAvg","v":61.9},{"r":82,"s":"FedAvg","v":62.2},{"r":83,"s":"FedAvg","v":62.4},{"r":84,"s":"FedAvg","v":62.6},{"r":85,"s":"FedAvg","v":62.8},{"r":86,"s":"FedAvg","v":62.6},{"r":87,"s":"FedAvg","v":62.5},{"r":88,"s":"FedAvg","v":62.2},{"r":89,"s":"FedAvg","v":62.5},{"r":90,"s":"FedAvg","v":62.8},
{"r":91,"s":"FedAvg","v":62.6},{"r":92,"s":"FedAvg","v":62.4},{"r":93,"s":"FedAvg","v":62.7},{"r":94,"s":"FedAvg","v":62.9},{"r":95,"s":"FedAvg","v":62.5},{"r":96,"s":"FedAvg","v":63.0},{"r":97,"s":"FedAvg","v":62.3},{"r":98,"s":"FedAvg","v":62.7},{"r":99,"s":"FedAvg","v":62.5},{"r":100,"s":"FedAvg","v":62.6},
{"r":1,"s":"Retrain","v":10.0},{"r":2,"s":"Retrain","v":11.4},{"r":3,"s":"Retrain","v":18.9},{"r":4,"s":"Retrain","v":21.4},{"r":5,"s":"Retrain","v":22.7},{"r":6,"s":"Retrain","v":25.2},{"r":7,"s":"Retrain","v":25.6},{"r":8,"s":"Retrain","v":29.3},{"r":9,"s":"Retrain","v":30.7},{"r":10,"s":"Retrain","v":33.2},
{"r":11,"s":"Retrain","v":34.7},{"r":12,"s":"Retrain","v":36.0},{"r":13,"s":"Retrain","v":37.6},{"r":14,"s":"Retrain","v":39.3},{"r":15,"s":"Retrain","v":40.4},{"r":16,"s":"Retrain","v":41.4},{"r":17,"s":"Retrain","v":43.0},{"r":18,"s":"Retrain","v":44.3},{"r":19,"s":"Retrain","v":45.1},{"r":20,"s":"Retrain","v":46.2},
{"r":21,"s":"Retrain","v":47.0},{"r":22,"s":"Retrain","v":47.4},{"r":23,"s":"Retrain","v":47.8},{"r":24,"s":"Retrain","v":48.7},{"r":25,"s":"Retrain","v":49.5},{"r":26,"s":"Retrain","v":49.6},{"r":27,"s":"Retrain","v":49.9},{"r":28,"s":"Retrain","v":50.5},{"r":29,"s":"Retrain","v":51.4},{"r":30,"s":"Retrain","v":51.8},
{"r":31,"s":"Retrain","v":52.0},{"r":32,"s":"Retrain","v":52.4},{"r":33,"s":"Retrain","v":53.2},{"r":34,"s":"Retrain","v":53.9},{"r":35,"s":"Retrain","v":54.1},{"r":36,"s":"Retrain","v":54.3},{"r":37,"s":"Retrain","v":54.7},{"r":38,"s":"Retrain","v":55.4},{"r":39,"s":"Retrain","v":55.9},{"r":40,"s":"Retrain","v":56.5},
{"r":41,"s":"Retrain","v":56.7},{"r":42,"s":"Retrain","v":57.2},{"r":43,"s":"Retrain","v":57.4},{"r":44,"s":"Retrain","v":57.6},{"r":45,"s":"Retrain","v":57.8},{"r":46,"s":"Retrain","v":58.0},{"r":47,"s":"Retrain","v":58.2},{"r":48,"s":"Retrain","v":58.4},{"r":49,"s":"Retrain","v":58.5},{"r":50,"s":"Retrain","v":59.0},
{"r":51,"s":"Retrain","v":59.2},{"r":52,"s":"Retrain","v":59.4},{"r":53,"s":"Retrain","v":59.4},{"r":54,"s":"Retrain","v":59.7},{"r":55,"s":"Retrain","v":59.8},{"r":56,"s":"Retrain","v":60.1},{"r":57,"s":"Retrain","v":60.5},{"r":58,"s":"Retrain","v":60.8},{"r":59,"s":"Retrain","v":61.0},{"r":60,"s":"Retrain","v":61.3},
{"r":61,"s":"Retrain","v":61.5},{"r":62,"s":"Retrain","v":61.8},{"r":63,"s":"Retrain","v":62.0},{"r":64,"s":"Retrain","v":62.1},{"r":65,"s":"Retrain","v":62.2},{"r":66,"s":"Retrain","v":62.3},{"r":67,"s":"Retrain","v":62.4},{"r":68,"s":"Retrain","v":62.5},{"r":69,"s":"Retrain","v":62.4},{"r":70,"s":"Retrain","v":62.6},
{"r":71,"s":"Retrain","v":62.7},{"r":72,"s":"Retrain","v":62.8},{"r":73,"s":"Retrain","v":62.9},{"r":74,"s":"Retrain","v":63.0},{"r":75,"s":"Retrain","v":63.2},{"r":76,"s":"Retrain","v":63.2},{"r":77,"s":"Retrain","v":63.4},{"r":78,"s":"Retrain","v":63.4},{"r":79,"s":"Retrain","v":63.6},{"r":80,"s":"Retrain","v":63.7},
{"r":81,"s":"Retrain","v":63.7},{"r":82,"s":"Retrain","v":63.8},{"r":83,"s":"Retrain","v":63.8},{"r":84,"s":"Retrain","v":63.8},{"r":85,"s":"Retrain","v":63.8},{"r":86,"s":"Retrain","v":63.9},{"r":87,"s":"Retrain","v":64.0},{"r":88,"s":"Retrain","v":63.9},{"r":89,"s":"Retrain","v":64.0},{"r":90,"s":"Retrain","v":64.1},
{"r":91,"s":"Retrain","v":64.3},{"r":92,"s":"Retrain","v":64.2},{"r":93,"s":"Retrain","v":63.9},{"r":94,"s":"Retrain","v":64.0},{"r":95,"s":"Retrain","v":63.8},{"r":96,"s":"Retrain","v":64.1},{"r":97,"s":"Retrain","v":64.2},{"r":98,"s":"Retrain","v":64.1},{"r":99,"s":"Retrain","v":64.0},{"r":100,"s":"Retrain","v":64.0}
]
},
"concat": [
{
 "width": 239, "height": 238,
 "data": {"name": "a"},
 "title": {"text": "(a)\u00a0\u00a0Accuracy\u00a0\u00a0results\u00a0\u00a0on\u00a0\u00a0MNIST\u00a0\u00a0for", "subtitle": "N = 5", "subtitleFontStyle": "italic"},
 "mark": {"type": "line", "strokeWidth": 1.8, "clip": true},
 "encoding": {
  "x": {"field": "r", "type": "quantitative", "scale": {"domain": [0, 50], "nice": false}, "axis": {"values": [0,5,10,15,20,25,30,35,40,45,50], "title": "Global Rounds"}},
  "y": {"field": "v", "type": "quantitative", "scale": {"domain": [61.34, 97.89], "nice": false, "zero": false}, "axis": {"values": [62,70.5,79,87.5,96], "format": ".1f", "title": "Accuracy"}},
  "color": {"field": "s", "type": "nominal", "scale": {"domain": ["FedAvg", "Retrain"], "range": ["#4169e1", "#ff1a1a"]}, "legend": {"title": null}}
 }
},
{
 "width": 239, "height": 238,
 "data": {"name": "b"},
 "title": {"text": "(b)\u00a0\u00a0Accuracy\u00a0\u00a0results\u00a0\u00a0on\u00a0\u00a0MNIST\u00a0\u00a0for", "subtitle": "N = 10", "subtitleFontStyle": "italic"},
 "mark": {"type": "line", "strokeWidth": 1.8, "clip": true},
 "encoding": {
  "x": {"field": "r", "type": "quantitative", "scale": {"domain": [0, 100], "nice": false}, "axis": {"values": [0,10,20,30,40,50,60,70,80,90,100], "title": "Global Rounds"}},
  "y": {"field": "v", "type": "quantitative", "scale": {"domain": [50.18, 98.49], "nice": false, "zero": false}, "axis": {"values": [52,63,74,85,96], "format": ".1f", "title": "Accuracy"}},
  "color": {"field": "s", "type": "nominal", "scale": {"domain": ["FedAvg", "Retrain"], "range": ["#4169e1", "#ff1a1a"]}, "legend": {"title": null}}
 }
},
{
 "width": 239, "height": 238,
 "data": {"name": "c"},
 "title": {"text": "(c)\u00a0\u00a0\u00a0Accuracy\u00a0\u00a0\u00a0\u00a0results\u00a0\u00a0\u00a0on\u00a0\u00a0\u00a0\u00a0Fashion-", "subtitle": "MNIST for N = 5"},
 "mark": {"type": "line", "strokeWidth": 1.8, "clip": true},
 "encoding": {
  "x": {"field": "r", "type": "quantitative", "scale": {"domain": [0, 50], "nice": false}, "axis": {"values": [0,5,10,15,20,25,30,35,40,45,50], "title": "Global Rounds"}},
  "y": {"field": "v", "type": "quantitative", "scale": {"domain": [59.36, 92.51], "nice": false, "zero": false}, "axis": {"values": [60,67.5,75,82.5,90], "format": ".1f", "title": "Accuracy"}},
  "color": {"field": "s", "type": "nominal", "scale": {"domain": ["FedAvg", "Retrain"], "range": ["#4169e1", "#ff1a1a"]}, "legend": {"title": null}}
 }
},
{
 "width": 239, "height": 238,
 "data": {"name": "d"},
 "title": {"text": "(d)\u00a0\u00a0\u00a0Accuracy\u00a0\u00a0\u00a0\u00a0results\u00a0\u00a0\u00a0on\u00a0\u00a0\u00a0\u00a0Fashion-", "subtitle": "MNIST for N = 10"},
 "mark": {"type": "line", "strokeWidth": 1.8, "clip": true},
 "encoding": {
  "x": {"field": "r", "type": "quantitative", "scale": {"domain": [0, 100], "nice": false}, "axis": {"values": [0,10,20,30,40,50,60,70,80,90,100], "title": "Global Rounds"}},
  "y": {"field": "v", "type": "quantitative", "scale": {"domain": [56.6, 92.9], "nice": false, "zero": false}, "axis": {"values": [60,67.5,75,82.5,90], "format": ".1f", "title": "Accuracy"}},
  "color": {"field": "s", "type": "nominal", "scale": {"domain": ["FedAvg", "Retrain"], "range": ["#4169e1", "#ff1a1a"]}, "legend": {"title": null}}
 }
},
{
 "width": 239, "height": 238,
 "data": {"name": "e"},
 "title": {"text": "(e)\u00a0\u00a0Accuracy\u00a0\u00a0results\u00a0\u00a0on\u00a0\u00a0Cifar-10\u00a0\u00a0for", "subtitle": "N = 5", "subtitleFontStyle": "italic"},
 "mark": {"type": "line", "strokeWidth": 1.8, "clip": true},
 "encoding": {
  "x": {"field": "r", "type": "quantitative", "scale": {"domain": [0, 50], "nice": false}, "axis": {"values": [0,5,10,15,20,25,30,35,40,45,50], "title": "Global Rounds"}},
  "y": {"field": "v", "type": "quantitative", "scale": {"domain": [7.37, 68.17], "nice": false, "zero": false}, "axis": {"values": [10,15.5,21,26.5,32,37.5,43,48.5,54,59.5,65], "format": ".1f", "title": "Accuracy"}},
  "color": {"field": "s", "type": "nominal", "scale": {"domain": ["FedAvg", "Retrain"], "range": ["#4169e1", "#ff1a1a"]}, "legend": {"title": null}}
 }
},
{
 "width": 239, "height": 238,
 "data": {"name": "f"},
 "title": {"text": "(f)\u00a0\u00a0Accuracy\u00a0\u00a0results\u00a0\u00a0on\u00a0\u00a0Cifar-10\u00a0\u00a0for", "subtitle": "N = 10", "subtitleFontStyle": "italic"},
 "mark": {"type": "line", "strokeWidth": 1.8, "clip": true},
 "encoding": {
  "x": {"field": "r", "type": "quantitative", "scale": {"domain": [0, 100], "nice": false}, "axis": {"values": [0,10,20,30,40,50,60,70,80,90,100], "title": "Global Rounds"}},
  "y": {"field": "v", "type": "quantitative", "scale": {"domain": [7.5, 66.92], "nice": false, "zero": false}, "axis": {"values": [10,15.5,21,26.5,32,37.5,43,48.5,54,59.5,65], "format": ".1f", "title": "Accuracy"}},
  "color": {"field": "s", "type": "nominal", "scale": {"domain": ["FedAvg", "Retrain"], "range": ["#4169e1", "#ff1a1a"]}, "legend": {"title": null}}
 }
}
]
}
